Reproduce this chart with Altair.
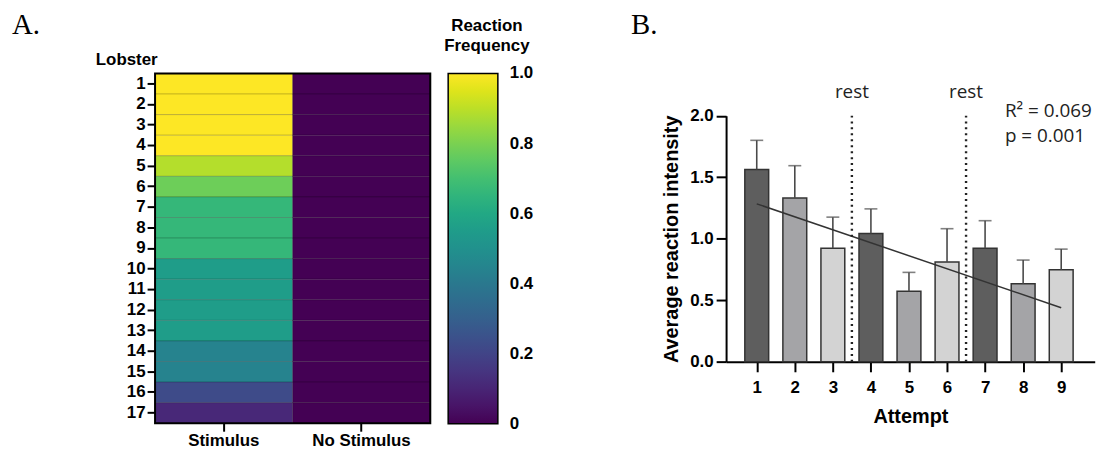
import altair as alt
import pandas as pd

# ---------------- data: panel A (heatmap) ----------------
lobsters = [str(i) for i in range(1, 18)]
conditions = ["Stimulus", "No Stimulus"]
trials = 9
stim_hits = [9, 9, 9, 9, 8, 7, 6, 6, 6, 5, 5, 5, 5, 4, 4, 2, 1]
no_stim_hits = [0] * 17
legend_values = [0, 0.2, 0.4, 0.6, 0.8, 1.0]

# ---------------- data: panel B (bars) ----------------
attempts = [1, 2, 3, 4, 5, 6, 7, 8, 9]
means = [1.564, 1.332, 0.924, 1.042, 0.573, 0.811, 0.924, 0.635, 0.749]
sems = [0.236, 0.262, 0.252, 0.201, 0.154, 0.271, 0.223, 0.192, 0.167]
rest_positions = [3.5, 6.5]
trend_x = [1, 9]
trend_y = [1.284, 0.44]
y_ticks = [0, 0.5, 1.0, 1.5, 2.0]
stats_lines = ["R\u00b2 = 0.069", "p = 0.001"]

heat_df = pd.DataFrame({
    "lobster": lobsters * 2,
    "condition": ["Stimulus"] * 17 + ["No Stimulus"] * 17,
    "freq": [h / trials for h in stim_hits] + [h / trials for h in no_stim_hits],
})
leg_df = pd.DataFrame({"v": legend_values})
bar_df = pd.DataFrame({"attempt": attempts, "mean": means, "sem": sems})
trend_df = pd.DataFrame({"attempt": trend_x, "mean": trend_y})
rest_df = pd.DataFrame({"attempt": rest_positions, "mean": [0, 0], "top": [2.0, 2.0]})
rest_lbl_df = pd.DataFrame({"attempt": rest_positions, "mean": [2.14, 2.14], "label": ["rest", "rest"]})
stats_df = pd.DataFrame({"attempt": [7.52, 7.52], "mean": [1.986, 1.79], "label": stats_lines})

SANS = "Liberation Sans"
W, H = 946, 352
LEG_X, LEG_W, LEG_LEN = 295, 50, 352.5

# ---------------- panel A ----------------
heat = alt.Chart(heat_df).mark_rect(stroke="black", strokeWidth=0.8, strokeOpacity=0.22).encode(
    x=alt.X("condition:N", sort=conditions,
            scale=alt.Scale(domain=conditions, range=[0, 277], paddingInner=0, paddingOuter=0),
            axis=alt.Axis(title=None, orient="bottom", labelAngle=0, labelFontSize=17,
                          tickSize=8, labelPadding=1, domain=False)),
    y=alt.Y("lobster:N", sort=lobsters,
            scale=alt.Scale(domain=lobsters, range=[0, 352], paddingInner=0, paddingOuter=0),
            axis=alt.Axis(title=None, orient="left", labelFontSize=17, tickSize=8,
                          labelPadding=2, domain=False)),
    color=alt.Color("freq:Q", scale=alt.Scale(scheme="viridis", domain=[0, 1]),
                    legend=alt.Legend(title=None, orient="none", legendX=LEG_X, legendY=0,
                                      direction="vertical", gradientLength=LEG_LEN,
                                      gradientThickness=LEG_W, gradientStrokeColor="black",
                                      gradientStrokeWidth=1.5, values=legend_values,
                                      labelExpr="''", padding=0)),
)

frame = alt.Chart(pd.DataFrame({"a": [0]})).mark_rect(
    fillOpacity=0, stroke="black", strokeWidth=2).encode(
    x=alt.value(0), x2=alt.value(277), y=alt.value(0), y2=alt.value(352))

# colour-bar labels and inner ticks, placed by their own scale along the bar
leg_scale = alt.Scale(domain=[0, 1], range=[LEG_LEN, 0], nice=False, zero=False)
leg_labels = alt.Chart(leg_df).transform_calculate(
    txt="datum.v == 0 ? '0' : format(datum.v, '.1f')").mark_text(
    font=SANS, fontWeight="bold", fontSize=17, align="left", baseline="middle", color="black").encode(
    y=alt.Y("v:Q", scale=leg_scale, axis=None), x=alt.value(LEG_X + LEG_W + 12), text="txt:N")
inner = leg_df[(leg_df.v > 0) & (leg_df.v < 1)]
leg_tick_l = alt.Chart(inner).mark_rule(color="black", strokeWidth=1.5).encode(
    y=alt.Y("v:Q", scale=leg_scale, axis=None), x=alt.value(LEG_X), x2=alt.value(LEG_X + 4))
leg_tick_r = alt.Chart(inner).mark_rule(color="black", strokeWidth=1.5).encode(
    y=alt.Y("v:Q", scale=leg_scale, axis=None), x=alt.value(LEG_X + LEG_W - 4),
    x2=alt.value(LEG_X + LEG_W))
legend_marks = alt.layer(leg_labels, leg_tick_l, leg_tick_r)

# ---------------- panel B ----------------
xs = alt.Scale(domain=[0.325, 9.75], range=[574.7, 945.7], nice=False, zero=False)
ys = alt.Scale(domain=[0, 2], range=[290.2, 42.5], nice=False, zero=False)
xaxis = alt.Axis(title="Attempt", orient="bottom", offset=-61.8, values=attempts, format="d",
                 labelFontSize=17, tickSize=10, labelPadding=8, titleFontSize=20,
                 titlePadding=11, grid=False)
yaxis = alt.Axis(title="Average reaction intensity", orient="left", offset=-574.7,
                 values=y_ticks, format=".1f", labelFontSize=17, tickSize=10, labelPadding=3,
                 titleFontSize=20, titlePadding=8, grid=False)


def X():
    return alt.X("attempt:Q", scale=xs, axis=xaxis)


def Y(field="mean"):
    return alt.Y(f"{field}:Q", scale=ys, axis=yaxis)


bars = alt.Chart(bar_df).transform_calculate(
    shade="(datum.attempt - 1) % 3").mark_bar(size=24, stroke="#333333", strokeWidth=1.5).encode(
    x=X(), y=Y(),
    fill=alt.Fill("shade:O", scale=alt.Scale(domain=[0, 1, 2],
                                             range=["#5e5e5e", "#a4a4a7", "#d3d3d3"]), legend=None),
)
err = alt.Chart(bar_df).transform_calculate(upper="datum.mean + datum.sem").mark_rule(
    strokeWidth=1.6, color="#4a4a4a").encode(x=X(), y=Y(), y2="upper:Q")
caps = alt.Chart(bar_df).transform_calculate(upper="datum.mean + datum.sem").mark_tick(
    orient="horizontal", size=13, thickness=1.6, color="#4a4a4a").encode(x=X(), y=Y("upper"))
trend = alt.Chart(trend_df).mark_line(color="#333333", strokeWidth=1.5).encode(x=X(), y=Y())
rests = alt.Chart(rest_df).mark_rule(strokeDash=[2, 4], strokeWidth=2.4, color="#222222").encode(
    x=X(), y=Y(), y2="top:Q")
rest_lbl = alt.Chart(rest_lbl_df).mark_text(font="Open Sans", fontSize=19, baseline="alphabetic",
                                            align="center", color="#222222").encode(
    x=X(), y=Y(), text="label:N")
stats = alt.Chart(stats_df).mark_text(font="Open Sans", fontSize=19, baseline="alphabetic",
                                      align="left", color="#222222").encode(
    x=X(), y=Y(), text="label:N")

panel_b = alt.layer(bars, err, caps, trend, rests, rest_lbl, stats)

# ---------------- free labels ----------------
def label(txt, x, y, font=SANS, size=16, weight="bold", align="center"):
    return alt.Chart(pd.DataFrame({"t": [txt]})).mark_text(
        font=font, fontSize=size, fontWeight=weight, align=align, baseline="alphabetic",
        color="black").encode(text="t:N", x=alt.value(x), y=alt.value(y))


labels = [
    label("A.", -144, -39.5, font="Liberation Serif", size=29, weight="normal", align="left"),
    label("B.", 479, -39.5, font="Liberation Serif", size=29, weight="normal", align="left"),
    label("Lobster", -28.5, -8.5, size=17),
    label("Reaction", 334, -43, size=17),
    label("Frequency", 334, -22.5, size=17),
]

chart = alt.layer(heat, frame, legend_marks, panel_b, *labels).resolve_scale(
    x="independent", y="independent", color="independent", fill="independent"
).properties(
    width=W, height=H,
    autosize=alt.AutoSizeParams(type="none"),
    padding={"left": 148, "top": 64.5, "right": 2, "bottom": 25},
).configure_view(stroke=None).configure_axis(
    labelFont=SANS, titleFont=SANS, labelFontWeight="bold", titleFontWeight="bold",
    labelColor="black", titleColor="black", domainColor="black", tickColor="black",
    domainWidth=2, tickWidth=2, grid=False,
)

chart.save("out.html", embed_options={"renderer": "svg", "actions": False})
